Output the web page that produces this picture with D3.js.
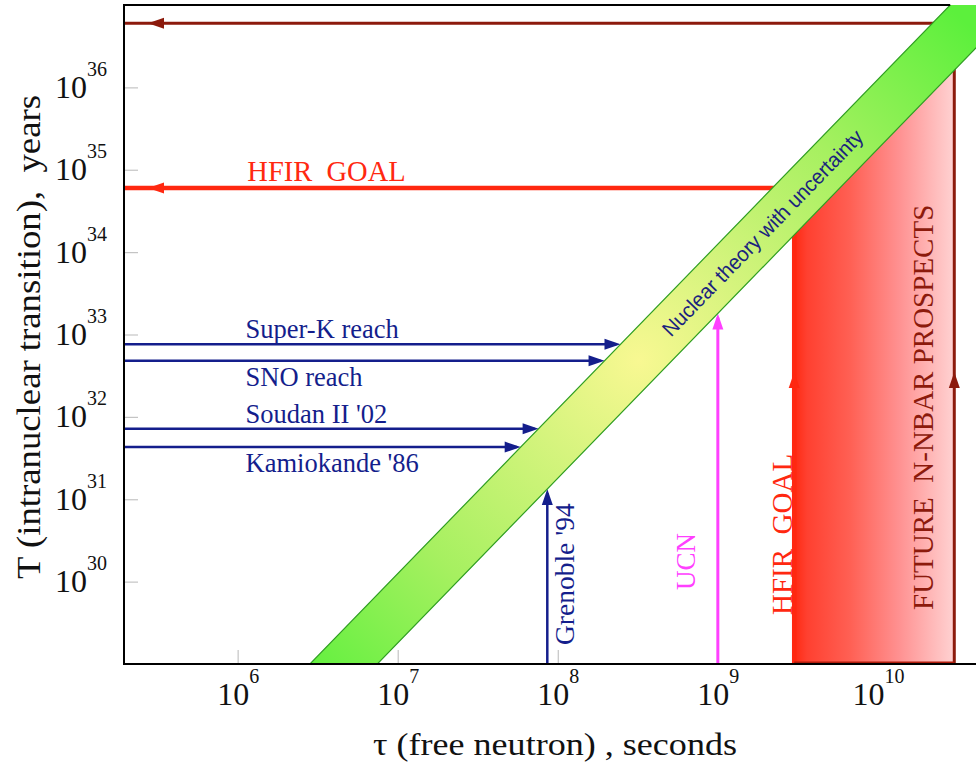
<!DOCTYPE html>
<html>
<head>
<meta charset="utf-8">
<script src="https://cdn.jsdelivr.net/npm/d3@7"></script>
<style>
  body { margin: 0; background: #fff; }
  svg { display: block; }
  text { white-space: pre; }
</style>
</head>
<body>
<svg id="chart" width="976" height="764" xml:space="preserve"></svg>
<script>
// ---- data ----
const xTickValues = [1e6, 1e7, 1e8, 1e9, 1e10];
const yTickValues = [1e30, 1e31, 1e32, 1e33, 1e34, 1e35, 1e36];

// intranuclear searches: lower limits on T (years)
const searchNames = ["Super-K reach", "SNO reach", "Soudan II '02", "Kamiokande '86"];
const searchLimits = [7.6e32, 4.8e32, 7.2e31, 4.3e31];
const searchLabelSide = ["above", "below", "above", "below"];

// free-neutron experiments: lower limits on tau (seconds)
const freeNames = ["Grenoble '94", "UCN"];
const freeLimits = [8.6e7, 1.0e9];

// goals: free-neutron reach (s) and the matching intranuclear reach (years)
const goalNames = ["HFIR  GOAL", "FUTURE  N-NBAR PROSPECTS"];
const goalTau = [3.0e9, 3.0e10];
const goalT = [6.0e34, 6.0e36];

// nuclear theory: T = R * tau^2, with R spanning the uncertainty
const bandR = [1.8e15, 1.25e16];
const bandLabel = "Nuclear theory with uncertainty";

// ---- styling ----
const NAVY = "#141e8c", RED = "#ff2810", DARK_RED = "#8c1a0c", MAGENTA = "#ff40ff";
const freeColors = [NAVY, MAGENTA];
const goalColors = [RED, DARK_RED];
const goalWidths = [4.5, 3];
const serif = "'Liberation Serif', 'Times New Roman', serif";

const plotLeft = 124, plotTop = 5, plotRight = 976, plotBottom = 664;

const svg = d3.select("#chart");

const x = d3.scaleLog().domain([1.95e5, 4.1e10]).range([plotLeft, plotRight]);
const y = d3.scaleLog().domain([1e29, 1e37]).range([plotBottom, plotTop]);

const defs = svg.append("defs");
defs.append("clipPath").attr("id", "plot-clip")
  .append("rect").attr("x", plotLeft).attr("y", plotTop)
  .attr("width", plotRight - plotLeft).attr("height", plotBottom - plotTop);

// band gradient: yellow core fading to green at both ends
const bandCenterTau = 3.2e8;
const bandMidR = Math.sqrt(bandR[0] * bandR[1]);
const bg = defs.append("radialGradient").attr("id", "band-grad")
  .attr("gradientUnits", "userSpaceOnUse")
  .attr("cx", x(bandCenterTau)).attr("cy", y(bandMidR * bandCenterTau * bandCenterTau))
  .attr("r", 470);
[[0, "#f8f892"], [0.25, "#d6f47e"], [0.6, "#a6f060"], [1, "#5cf03c"]]
  .forEach(([o, c]) => bg.append("stop").attr("offset", o).attr("stop-color", c));

// prospects gradient: strong red fading to pale pink
const rg = defs.append("linearGradient").attr("id", "reach-grad")
  .attr("gradientUnits", "userSpaceOnUse")
  .attr("x1", x(goalTau[0])).attr("x2", x(goalTau[1])).attr("y1", 0).attr("y2", 0);
[[0, "#ff2a12"], [0.08, "#ff4030"], [0.35, "#ff6054"], [0.65, "#ff9090"], [0.88, "#ffbcbc"], [1, "#ffd2d2"]]
  .forEach(([o, c]) => rg.append("stop").attr("offset", o).attr("stop-color", c));

// ---- axes (ticks point inward, light grey) ----
function powLabel(sel, v) {
  const e = Math.round(Math.log10(v));
  sel.text(null);
  sel.append("tspan").text("10");
  sel.append("tspan").attr("dy", -22).attr("font-size", 20).text(e);
}

const xAxis = svg.append("g").attr("transform", `translate(0,${plotBottom})`)
  .call(d3.axisBottom(x).tickValues(xTickValues).tickSizeInner(-14).tickSizeOuter(0));
xAxis.select(".domain").remove();
xAxis.selectAll(".tick line").attr("stroke", "#c4c4c4").attr("stroke-width", 1.2);
xAxis.selectAll(".tick text")
  .attr("y", 41).attr("dy", null)
  .attr("font-family", serif).attr("font-size", 32).attr("fill", "#111")
  .each(function (d) { powLabel(d3.select(this), d); });

const yAxis = svg.append("g").attr("transform", `translate(${plotLeft},0)`)
  .call(d3.axisLeft(y).tickValues(yTickValues).tickSizeInner(-14).tickSizeOuter(0));
yAxis.select(".domain").remove();
yAxis.selectAll(".tick line").attr("stroke", "#c4c4c4").attr("stroke-width", 1.2);
yAxis.selectAll(".tick text")
  .attr("x", -17).attr("dy", 10)
  .attr("font-family", serif).attr("font-size", 32).attr("fill", "#111")
  .attr("text-anchor", "end")
  .each(function (d) { powLabel(d3.select(this), d); });

// ---- plot contents ----
const plot = svg.append("g").attr("clip-path", "url(#plot-clip)");

// region reachable by the prospects: under the lower theory edge
const lowEdge = t => y(bandR[0] * t * t);
const [t0, t1] = goalTau;
plot.append("path")
  .attr("d", `M${x(t0)},${plotBottom} V${lowEdge(t0)} L${x(t1)},${lowEdge(t1)} V${plotBottom} Z`)
  .attr("fill", "url(#reach-grad)");

// arrowhead helper
function head(g, tx, ty, dir, color) {
  const L = 16, w = 5.5;
  let pts;
  if (dir === "right") pts = [[tx, ty], [tx - L, ty - w], [tx - L, ty + w]];
  else if (dir === "left") pts = [[tx, ty], [tx + L, ty - w], [tx + L, ty + w]];
  else pts = [[tx, ty], [tx - w, ty + L], [tx + w, ty + L]];
  g.append("path").attr("d", "M" + pts.join("L") + "Z").attr("fill", color);
}

// goal paths: up from the tau reach, across to the T axis
const arrowMidT = 3.5e32;
goalTau.forEach((t, i) => {
  const gx = x(t), gy = y(goalT[i]);
  plot.append("path")
    .attr("d", `M${gx},${plotBottom} V${gy} H${plotLeft}`)
    .attr("fill", "none").attr("stroke", goalColors[i]).attr("stroke-width", goalWidths[i]);
  head(plot, gx, y(arrowMidT), "up", goalColors[i]);
  head(plot, plotLeft + 24, gy, "left", goalColors[i]);
});

// bottom edge of the prospects region
plot.append("line")
  .attr("x1", x(t0)).attr("x2", x(t1)).attr("y1", plotBottom - 1).attr("y2", plotBottom - 1)
  .attr("stroke", "#b01c0c").attr("stroke-width", 3);

// intranuclear search limits: arrows reaching the upper theory edge
searchLimits.forEach((T, i) => {
  const yy = y(T);
  const tipX = x(Math.sqrt(T / bandR[1]));
  plot.append("line").attr("x1", plotLeft).attr("x2", tipX - 4).attr("y1", yy).attr("y2", yy)
    .attr("stroke", NAVY).attr("stroke-width", 2.5);
  head(plot, tipX, yy, "right", NAVY);
});

// free-neutron limits: arrows reaching the lower theory edge
freeLimits.forEach((t, i) => {
  const xx = x(t);
  const tipY = lowEdge(t);
  plot.append("line").attr("x1", xx).attr("x2", xx).attr("y1", plotBottom).attr("y2", tipY + 4)
    .attr("stroke", freeColors[i]).attr("stroke-width", i === 0 ? 2.5 : 3);
  head(plot, xx, tipY, "up", freeColors[i]);
});

// nuclear theory band
const bandTau = [1e6, 1e11];
const bandPts = [
  [x(bandTau[0]), y(bandR[0] * bandTau[0] ** 2)],
  [x(bandTau[1]), y(bandR[0] * bandTau[1] ** 2)],
  [x(bandTau[1]), y(bandR[1] * bandTau[1] ** 2)],
  [x(bandTau[0]), y(bandR[1] * bandTau[0] ** 2)]
];
plot.append("path").attr("d", "M" + bandPts.join("L") + "Z")
  .attr("fill", "url(#band-grad)").attr("stroke", "#2f9e22").attr("stroke-width", 1.2);

// band label along its centre line
const labelTau = 1.9e9;
const lx = x(labelTau), ly = y(bandMidR * labelTau * labelTau);
const ang = Math.atan2(bandPts[1][1] - bandPts[0][1], bandPts[1][0] - bandPts[0][0]) * 180 / Math.PI;
plot.append("text")
  .attr("transform", `translate(${lx},${ly}) rotate(${ang})`)
  .attr("text-anchor", "middle").attr("dy", "0.35em")
  .attr("font-family", "'Liberation Sans', Arial, sans-serif").attr("font-size", 21)
  .attr("textLength", 278).attr("lengthAdjust", "spacingAndGlyphs")
  .attr("fill", "#1a237e")
  .text(bandLabel);

// ---- frame ----
svg.append("path")
  .attr("d", `M${plotRight},${plotBottom} H${plotLeft} V${plotTop} H${x(Math.sqrt(1e37 / bandR[1]))}`)
  .attr("fill", "none").attr("stroke", "#000").attr("stroke-width", 2);

// ---- labels ----
const labelX = x(1.12e6);
searchNames.forEach((name, i) => {
  const yy = y(searchLimits[i]);
  svg.append("text")
    .attr("x", labelX).attr("y", searchLabelSide[i] === "above" ? yy - 6 : yy + 25)
    .attr("font-family", serif).attr("font-size", 26.5).attr("fill", NAVY)
    .text(name);
});

// horizontal goal label
svg.append("text")
  .attr("x", x(1.15e6)).attr("y", y(goalT[0]) - 7)
  .attr("font-family", serif).attr("font-size", 28.5).attr("fill", RED)
  .text(goalNames[0]);

// vertical labels (reading upwards)
function vLabel(bx, by, txt, color, size) {
  svg.append("text")
    .attr("transform", `translate(${bx},${by}) rotate(-90)`)
    .attr("font-family", serif).attr("font-size", size).attr("fill", color)
    .text(txt);
}
vLabel(x(freeLimits[0]) + 27, 645, freeNames[0], NAVY, 27.5);
vLabel(x(freeLimits[1]) - 23, 590, freeNames[1], MAGENTA, 27);
vLabel(x(goalTau[0]) - 2, 615, goalNames[0], RED, 29);
vLabel(x(goalTau[1]) - 21, 610, goalNames[1], DARK_RED, 29);

// axis titles
svg.append("text")
  .attr("x", 555).attr("y", 755).attr("text-anchor", "middle")
  .attr("font-family", serif).attr("font-size", 32).attr("fill", "#111")
  .attr("textLength", 364).attr("lengthAdjust", "spacingAndGlyphs")
  .text("τ (free neutron) , seconds");
svg.append("text")
  .attr("transform", "translate(40,337) rotate(-90)").attr("text-anchor", "middle")
  .attr("font-family", serif).attr("font-size", 33).attr("fill", "#111")
  .attr("textLength", 484).attr("lengthAdjust", "spacingAndGlyphs")
  .text("T (intranuclear transition),  years");
</script>
</body>
</html>
